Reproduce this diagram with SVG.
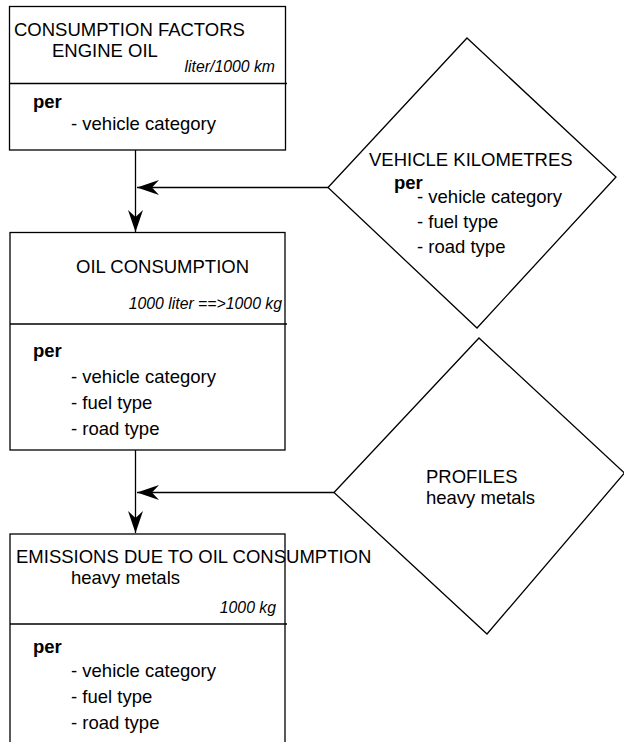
<svg xmlns="http://www.w3.org/2000/svg" width="624" height="742" viewBox="0 0 624 742">
<style>
text{font-family:"Liberation Sans",Arial,sans-serif;font-size:18.5px;fill:#000}
.it{font-style:italic;font-size:15.8px}
.b{font-weight:bold}
.box{fill:#fff;stroke:#000;stroke-width:1.3}
.ln{fill:none;stroke:#000;stroke-width:1.3}
</style>
<defs>
<marker id="ah" markerUnits="userSpaceOnUse" markerWidth="26" markerHeight="20" viewBox="-24 -10 26 20" refX="0" refY="0" orient="auto">
<path d="M0,0 L-22,-7.5 L-15,0 L-22,7.5 Z" fill="#000"/>
</marker>
</defs>
<rect width="624" height="742" fill="#fff"/>
<g id="connectors">
<line class="ln" x1="135.5" y1="150" x2="135.5" y2="232" marker-end="url(#ah)"/>
<line class="ln" x1="328" y1="187.5" x2="137" y2="187.5" marker-end="url(#ah)"/>
<line class="ln" x1="135.5" y1="450" x2="135.5" y2="533" marker-end="url(#ah)"/>
<line class="ln" x1="334" y1="492.5" x2="137" y2="492.5" marker-end="url(#ah)"/>
</g>
<g id="consumption-factors">
<rect class="box" x="9.5" y="6.5" width="276" height="143.5"/>
<line class="ln" x1="9.5" y1="83.5" x2="287" y2="83.5"/>
<text x="14" y="36">CONSUMPTION FACTORS</text>
<text x="52" y="57">ENGINE OIL</text>
<text class="it" x="275" y="72" text-anchor="end">liter/1000 km</text>
<text class="b" x="33" y="108">per</text>
<text x="71" y="130">- vehicle category</text>
</g>
<g id="vehicle-kilometres">
<polygon class="box" points="467,38 616,177 477,328 328,187.5"/>
<text x="369" y="166">VEHICLE KILOMETRES</text>
<text class="b" x="394" y="189">per</text>
<text x="417" y="203">- vehicle category</text>
<text x="417" y="228">- fuel type</text>
<text x="417" y="253">- road type</text>
</g>
<g id="oil-consumption">
<rect class="box" x="10" y="232.5" width="275" height="217.5"/>
<line class="ln" x1="10" y1="324" x2="287" y2="324"/>
<text x="76" y="273">OIL CONSUMPTION</text>
<text class="it" x="282" y="309" text-anchor="end">1000 liter ==&gt;1000 kg</text>
<text class="b" x="33" y="357">per</text>
<text x="71" y="383">- vehicle category</text>
<text x="71" y="409">- fuel type</text>
<text x="71" y="435">- road type</text>
</g>
<g id="profiles">
<polygon class="box" points="479,338 624.5,473 487,634 334,492.5"/>
<text x="426" y="483">PROFILES</text>
<text x="426" y="504">heavy metals</text>
</g>
<g id="emissions">
<rect class="box" x="10" y="534" width="275" height="215"/>
<line class="ln" x1="10" y1="624" x2="287" y2="624"/>
<text x="16" y="563">EMISSIONS DUE TO OIL CONSUMPTION</text>
<text x="71" y="584">heavy metals</text>
<text class="it" x="276" y="613" text-anchor="end">1000 kg</text>
<text class="b" x="33" y="653">per</text>
<text x="71" y="677">- vehicle category</text>
<text x="71" y="703">- fuel type</text>
<text x="71" y="729">- road type</text>
</g>
</svg>
